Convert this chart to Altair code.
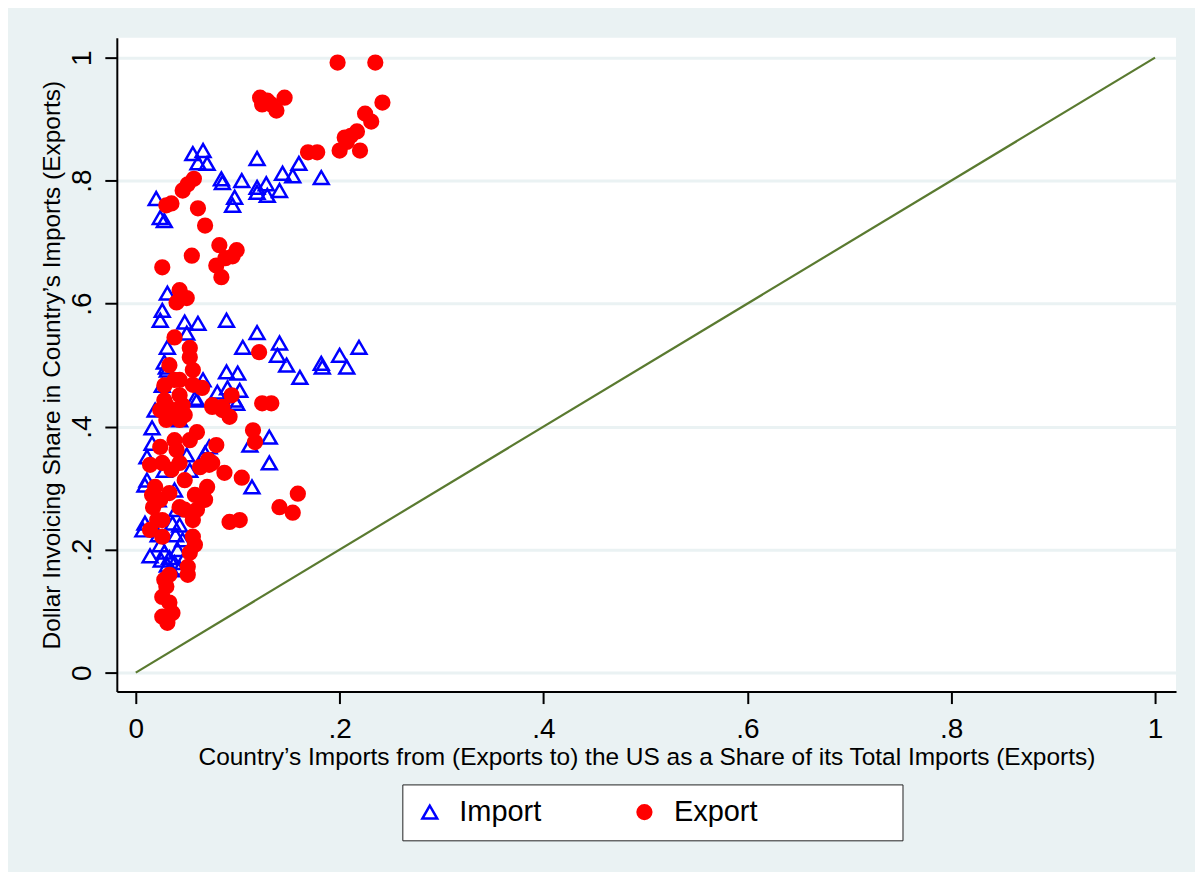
import altair as alt
import pandas as pd

# Import series (hollow blue triangles)
imp_x = [0.056, 0.066, 0.061, 0.070, 0.119, 0.020, 0.024, 0.028, 0.084, 0.085,
         0.104, 0.097, 0.095, 0.119, 0.128, 0.119, 0.129, 0.141, 0.144, 0.154,
         0.160, 0.182, 0.031, 0.026, 0.024, 0.048, 0.061, 0.089, 0.119, 0.050,
         0.031, 0.105, 0.141, 0.139, 0.148, 0.161, 0.182, 0.183, 0.200, 0.207,
         0.219, 0.028, 0.030, 0.031, 0.089, 0.100, 0.066, 0.080, 0.090, 0.102,
         0.058, 0.097, 0.019, 0.016, 0.131, 0.112, 0.016, 0.011, 0.131, 0.072,
         0.068, 0.114, 0.011, 0.050, 0.060, 0.099, 0.009, 0.040, 0.009, 0.007,
         0.014, 0.036, 0.024, 0.028, 0.033, 0.038, 0.043, 0.031, 0.041, 0.046,
         0.035, 0.025, 0.048, 0.039, 0.043, 0.022, 0.028, 0.038, 0.053, 0.022,
         0.043, 0.026]
imp_y = [0.844, 0.849, 0.829, 0.828, 0.836, 0.771, 0.740, 0.735, 0.803, 0.797,
         0.800, 0.773, 0.760, 0.789, 0.795, 0.781, 0.776, 0.784, 0.812, 0.808,
         0.828, 0.805, 0.617, 0.589, 0.573, 0.570, 0.568, 0.573, 0.553, 0.552,
         0.529, 0.529, 0.536, 0.516, 0.500, 0.480, 0.503, 0.497, 0.516, 0.497,
         0.529, 0.505, 0.497, 0.492, 0.489, 0.487, 0.476, 0.456, 0.463, 0.459,
         0.446, 0.443, 0.427, 0.398, 0.383, 0.370, 0.373, 0.351, 0.341, 0.367,
         0.357, 0.302, 0.313, 0.354, 0.443, 0.438, 0.305, 0.265, 0.243, 0.232,
         0.190, 0.243, 0.208, 0.196, 0.187, 0.179, 0.170, 0.175, 0.200, 0.216,
         0.167, 0.183, 0.187, 0.224, 0.240, 0.224, 0.329, 0.297, 0.329, 0.281,
         0.411, 0.467]

# Export series (filled red circles)
exp_x = [0.198, 0.235, 0.122, 0.129, 0.146, 0.138, 0.133, 0.124, 0.242, 0.225,
         0.231, 0.205, 0.211, 0.217, 0.200, 0.220, 0.207, 0.169, 0.178, 0.057,
         0.051, 0.046, 0.030, 0.035, 0.061, 0.068, 0.055, 0.026, 0.082, 0.099,
         0.095, 0.079, 0.084, 0.088, 0.043, 0.040, 0.050, 0.038, 0.053, 0.053,
         0.056, 0.121, 0.065, 0.094, 0.075, 0.085, 0.124, 0.133, 0.115, 0.117,
         0.104, 0.159, 0.141, 0.154, 0.092, 0.102, 0.079, 0.087, 0.075, 0.071,
         0.038, 0.028, 0.043, 0.028, 0.038, 0.024, 0.048, 0.030, 0.046, 0.030,
         0.043, 0.060, 0.024, 0.040, 0.026, 0.043, 0.063, 0.072, 0.070, 0.019,
         0.033, 0.017, 0.043, 0.060, 0.026, 0.056, 0.021, 0.026, 0.056, 0.053,
         0.051, 0.051, 0.030, 0.026, 0.033, 0.026, 0.036, 0.031, 0.085, 0.092,
         0.075, 0.014, 0.016, 0.014, 0.033, 0.028, 0.058, 0.048, 0.038, 0.053,
         0.048, 0.024, 0.035, 0.058, 0.068, 0.043, 0.056, 0.033]
exp_y = [0.992, 0.992, 0.935, 0.930, 0.935, 0.914, 0.924, 0.924, 0.927, 0.909,
         0.896, 0.870, 0.873, 0.880, 0.849, 0.849, 0.863, 0.846, 0.846, 0.803,
         0.794, 0.784, 0.760, 0.763, 0.755, 0.727, 0.678, 0.659, 0.695, 0.687,
         0.677, 0.662, 0.643, 0.674, 0.622, 0.602, 0.609, 0.545, 0.528, 0.513,
         0.492, 0.521, 0.463, 0.451, 0.432, 0.427, 0.438, 0.438, 0.394, 0.375,
         0.317, 0.291, 0.269, 0.260, 0.245, 0.248, 0.370, 0.325, 0.341, 0.346,
         0.476, 0.467, 0.451, 0.443, 0.427, 0.427, 0.419, 0.435, 0.435, 0.411,
         0.411, 0.391, 0.367, 0.362, 0.341, 0.341, 0.334, 0.338, 0.302, 0.302,
         0.292, 0.269, 0.269, 0.265, 0.248, 0.248, 0.248, 0.221, 0.221, 0.195,
         0.172, 0.159, 0.140, 0.123, 0.114, 0.091, 0.097, 0.081, 0.432, 0.416,
         0.435, 0.338, 0.289, 0.232, 0.159, 0.151, 0.208, 0.265, 0.378, 0.378,
         0.313, 0.281, 0.330, 0.289, 0.281, 0.476, 0.468, 0.500]

# third, empty legend slot only widens the legend box (no data uses it)
series_names = ["Import", "Export", ""]
diag_x = [0, 1]
diag_y = [0, 1]
tick_values = [0, 0.2, 0.4, 0.6, 0.8, 1]

FONT = "Liberation Sans"
BG = "#EAF2F3"

df = pd.DataFrame({
    "x": imp_x + exp_x,
    "y": imp_y + exp_y,
    "series": ["Import"] * len(imp_x) + ["Export"] * len(exp_x),
})
diag = pd.DataFrame({"x": diag_x, "y": diag_y})

label_expr = "datum.value == 0 ? '0' : datum.value == 1 ? '1' : '.' + format(datum.value * 10, 'd')"

xscale = alt.Scale(domain=[-0.0186, 1.0206], nice=False, zero=False)
yscale = alt.Scale(domain=[-0.0308, 1.0325], nice=False, zero=False)

xaxis = alt.Axis(
    values=tick_values, labelExpr=label_expr, grid=False,
    title="Country\u2019s Imports from (Exports to) the US as a Share of its Total Imports (Exports)",
    titleFontSize=24.5, titleFontWeight="normal", titleFont=FONT, titleColor="black",
    titleBaseline="alphabetic", titleY=73,
    labelFontSize=28, labelFont=FONT, labelColor="black", labelPadding=12,
    domainColor="black", domainWidth=2, tickColor="black", tickWidth=2, tickSize=12,
)
yaxis = alt.Axis(
    values=tick_values, labelExpr=label_expr, grid=True, gridColor=BG, gridWidth=3,
    title="Dollar Invoicing Share in Country\u2019s Imports (Exports)",
    titleFontSize=24.5, titleFontWeight="normal", titleFont=FONT, titleColor="black",
    titlePadding=4,
    labelFontSize=28, labelFont=FONT, labelColor="black", labelAngle=270,
    labelAlign="center", labelBaseline="bottom", labelPadding=8,
    domainColor="black", domainWidth=2, tickColor="black", tickWidth=2, tickSize=12,
)

line = alt.Chart(diag).mark_line(color="#5A7A30", strokeWidth=2.2).encode(
    x=alt.X("x:Q", scale=xscale, axis=xaxis),
    y=alt.Y("y:Q", scale=yscale, axis=yaxis),
)

leg = alt.Legend(title=None, labelLimit=400)
points = alt.Chart(df).mark_point(strokeWidth=2.5, opacity=1).encode(
    x=alt.X("x:Q", scale=xscale, axis=xaxis),
    y=alt.Y("y:Q", scale=yscale, axis=yaxis),
    shape=alt.Shape("series:N", scale=alt.Scale(domain=series_names, range=["triangle-up", "circle", "circle"]), legend=leg),
    stroke=alt.Stroke("series:N", scale=alt.Scale(domain=series_names, range=["#0000FF", "#FF0000", "transparent"]), legend=leg),
    fill=alt.Fill("series:N", scale=alt.Scale(domain=series_names, range=["transparent", "#FF0000", "transparent"]), legend=leg),
    size=alt.Size("series:N", scale=alt.Scale(domain=series_names, range=[220, 160, 1]), legend=leg),
    order=alt.Order("ord:Q"),
).transform_calculate(ord="datum.series == 'Import' ? 0 : 1")

chart = alt.layer(line, points).properties(
    width=1061, height=655,
    autosize=alt.AutoSizeParams(type="none"),
    padding={"left": 109, "top": 29, "right": 19, "bottom": 180},
    background=BG,
).configure_view(fill="white", strokeWidth=0).configure_legend(
    orient="none", legendX=286, legendY=748, direction="horizontal",
    strokeColor="#222222", fillColor="white", padding=13,
    labelFont=FONT, labelFontSize=29, labelColor="black", labelLimit=400,
    columnPadding=88, labelOffset=15, symbolStrokeWidth=2.5,
)

chart.save("out.html", embed_options={"renderer": "svg", "actions": False})
